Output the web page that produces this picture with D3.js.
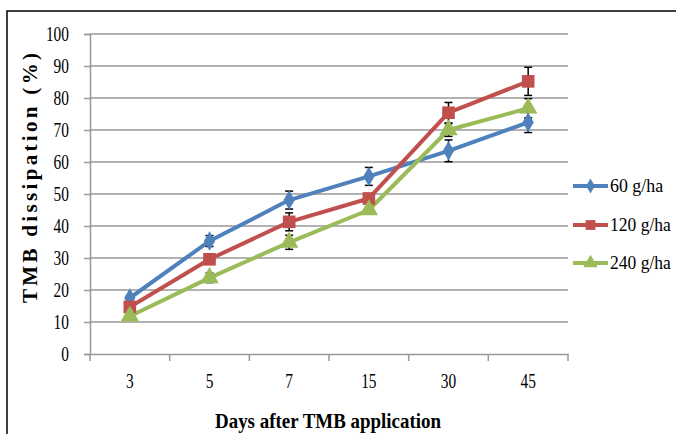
<!DOCTYPE html>
<html><head><meta charset="utf-8">
<script src="https://cdn.jsdelivr.net/npm/d3@7"></script>
<style>body{margin:0;background:#fff}svg{display:block}
svg text{font-family:"Liberation Serif","Times New Roman",serif !important;}</style>
</head><body>
<svg id="c" width="676" height="434"></svg>
<script>
const categories = ["3","5","7","15","30","45"];
const seriesNames = ["60 g/ha","120 g/ha","240 g/ha"];
const s60  = [17.5, 35.3, 48.1, 55.5, 63.5, 72.4];
const s120 = [14.7, 29.6, 41.3, 48.6, 75.4, 85.2];
const s240 = [11.8, 23.8, 34.9, 45.0, 70.0, 76.8];
const e60  = [0.8, 1.7, 2.8, 2.8, 3.4, 3.2];
const e120 = [0.8, 1.2, 2.8, 1.5, 3.2, 4.4];
const e240 = [0.5, 1.5, 2.2, 1.0, 2.0, 3.0];
const yTicks = [0,10,20,30,40,50,60,70,80,90,100];
const colors = ["#4F81BD","#C0504D","#9BBB59"];
const symbols = [d3.symbolDiamond, d3.symbolSquare, d3.symbolTriangle];
const symSizes = [110, 160, 150];

const svg = d3.select("#c");
svg.append("rect").attr("x",7).attr("y",11).attr("width",720).attr("height",500)
  .attr("fill","#fff").attr("stroke","#000").attr("stroke-width",1.5);

const L=90, R=568, T=34, B=354;
const x = d3.scaleBand().domain(categories).range([L,R]);
const y = d3.scaleLinear().domain([0,100]).range([B,T]);

svg.append("g").selectAll("line").data(yTicks.filter(d=>d>0)).join("line")
  .attr("x1",L).attr("x2",R).attr("y1",d=>y(d)).attr("y2",d=>y(d))
  .attr("stroke","#999").attr("stroke-width",1.5);

const ya = svg.append("g").attr("transform",`translate(${L},0)`)
  .call(d3.axisLeft(y).tickValues(yTicks).tickSize(6).tickPadding(15));
ya.select(".domain").attr("stroke","#999").attr("stroke-width",1.5);
ya.selectAll(".tick line").attr("stroke","#999").attr("stroke-width",1.5);
ya.selectAll("text").attr("font-size",20).attr("fill","#000")
  .attr("textLength",function(){return this.textContent.length*7.7;})
  .attr("lengthAdjust","spacingAndGlyphs");

const xa = svg.append("g").attr("transform",`translate(0,${B})`)
  .call(d3.axisBottom(x).tickSize(0).tickPadding(20));
xa.select(".domain").attr("stroke","#999").attr("stroke-width",1.5);
xa.selectAll("text").attr("font-size",20).attr("fill","#000")
  .attr("textLength",function(){return this.textContent.length*7.7;})
  .attr("lengthAdjust","spacingAndGlyphs");
const bounds = categories.map(c=>x(c)).concat([R]);
svg.append("g").selectAll("line").data(bounds).join("line")
  .attr("x1",d=>d).attr("x2",d=>d).attr("y1",B).attr("y2",B+7)
  .attr("stroke","#999").attr("stroke-width",1.5);

svg.append("text").attr("transform","translate(37,178) rotate(-90)")
  .attr("text-anchor","middle").attr("font-weight","bold")
  .attr("font-size",21).attr("textLength",250).attr("lengthAdjust","spacing")
  .text("TMB dissipation (%)");
svg.append("text").attr("x",328).attr("y",428)
  .attr("text-anchor","middle").attr("font-weight","bold")
  .attr("font-size",22).attr("textLength",226).attr("lengthAdjust","spacingAndGlyphs")
  .text("Days after TMB application");

const allS = [s60,s120,s240], allE=[e60,e120,e240];
const cx = c => x(c)+x.bandwidth()/2;
const line = d3.line().x((d,i)=>cx(categories[i])).y(d=>y(d));

allS.forEach((s,k)=>{
  svg.append("path").datum(s).attr("d",line).attr("fill","none")
    .attr("stroke",colors[k]).attr("stroke-width",4).attr("stroke-linejoin","round");
});
allS.forEach((s,k)=>{
  const g = svg.append("g").attr("stroke","#000").attr("stroke-width",1.5);
  s.forEach((v,i)=>{
    const X=cx(categories[i]), e=allE[k][i];
    g.append("line").attr("x1",X).attr("x2",X).attr("y1",y(v-e)).attr("y2",y(v+e));
    g.append("line").attr("x1",X-4).attr("x2",X+4).attr("y1",y(v-e)).attr("y2",y(v-e));
    g.append("line").attr("x1",X-4).attr("x2",X+4).attr("y1",y(v+e)).attr("y2",y(v+e));
  });
});
allS.forEach((s,k)=>{
  svg.append("g").selectAll("path").data(s).join("path")
    .attr("d",d3.symbol().type(symbols[k]).size(symSizes[k]))
    .attr("transform",(d,i)=>`translate(${cx(categories[i])},${y(d)})`)
    .attr("fill",colors[k]);
});

const legY = [186,225,263];
seriesNames.forEach((n,k)=>{
  const g = svg.append("g");
  g.append("line").attr("x1",573).attr("x2",608).attr("y1",legY[k]).attr("y2",legY[k])
    .attr("stroke",colors[k]).attr("stroke-width",4);
  g.append("path").attr("d",d3.symbol().type(symbols[k]).size(symSizes[k]*0.6))
    .attr("transform",`translate(590.5,${legY[k]})`).attr("fill",colors[k]);
  g.append("text").attr("x",610).attr("y",legY[k]+6)
    .attr("font-size",18).attr("textLength",n.length*7.6).attr("lengthAdjust","spacingAndGlyphs")
    .text(n);
});
</script>
</body></html>
